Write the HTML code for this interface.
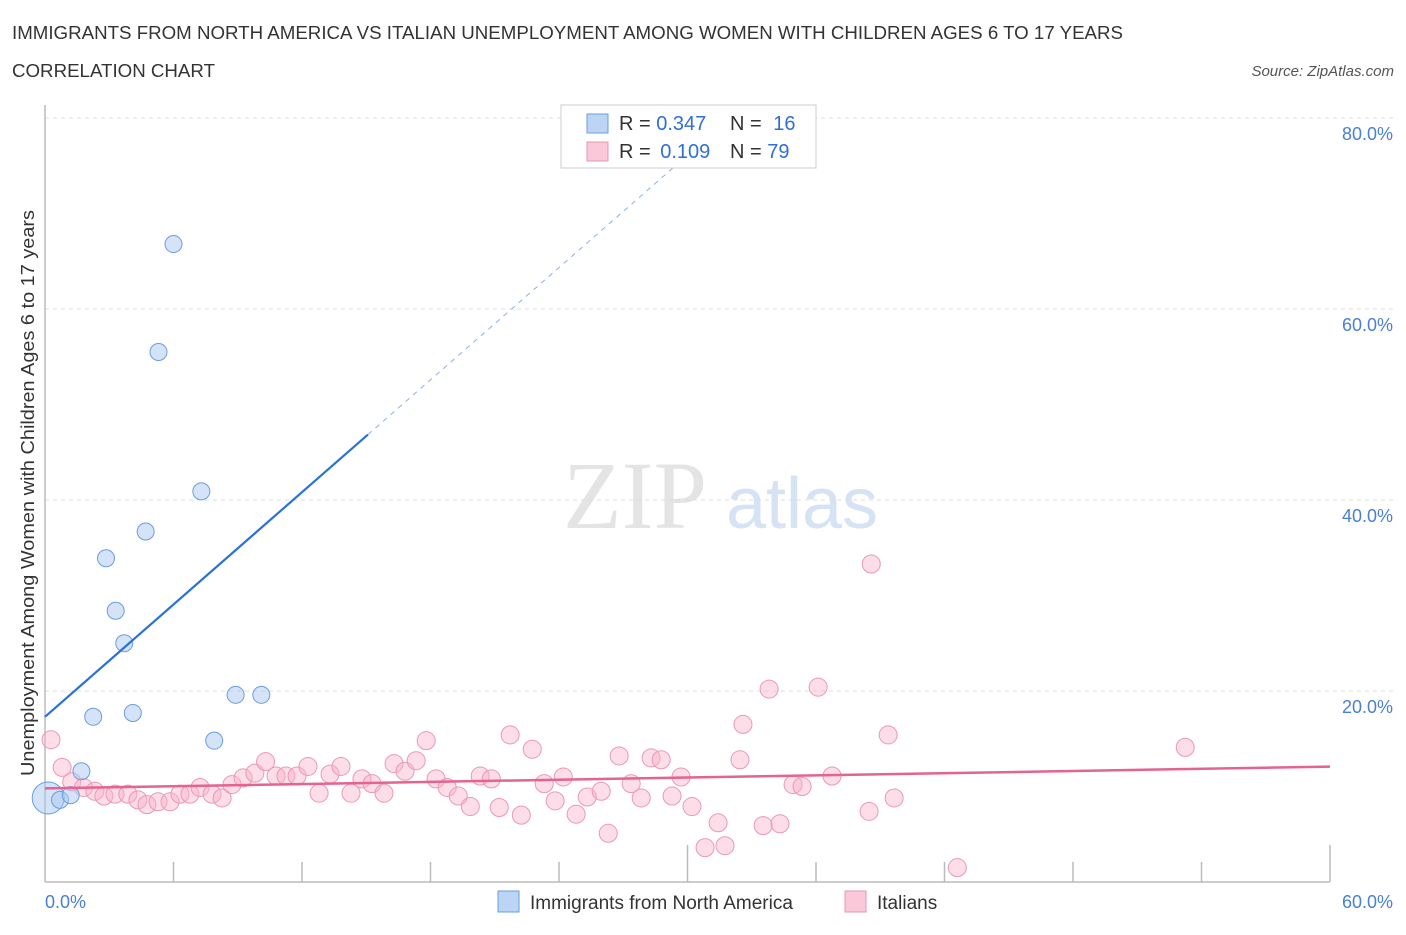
<!DOCTYPE html>
<html><head><meta charset="utf-8"><style>
body{margin:0;background:#fff;font-family:"Liberation Sans",sans-serif}
svg text{font-family:"Liberation Sans",sans-serif}
</style></head><body>
<svg width="1406" height="930" viewBox="0 0 1406 930">
<text x="12" y="39" font-size="18" fill="#333" textLength="1111" lengthAdjust="spacingAndGlyphs">IMMIGRANTS FROM NORTH AMERICA VS ITALIAN UNEMPLOYMENT AMONG WOMEN WITH CHILDREN AGES 6 TO 17 YEARS</text>
<text x="12" y="77" font-size="18" fill="#333" textLength="203" lengthAdjust="spacingAndGlyphs">CORRELATION CHART</text>
<text x="1394" y="76" font-size="15" fill="#555" font-style="italic" text-anchor="end">Source: ZipAtlas.com</text>
<g>
<text x="635" y="528" font-size="96" fill="#e4e4e4" text-anchor="middle" font-family="Liberation Serif" style="font-family:'Liberation Serif',serif">ZIP</text>
<text x="802" y="528" font-size="72" fill="#d5e3f5" text-anchor="middle">atlas</text>
</g>
<g id="grid"></g>
<g id="axes"></g>
<g id="marks"></g>
<text transform="translate(34,493) rotate(-90)" font-size="18" fill="#333" text-anchor="middle" textLength="566" lengthAdjust="spacingAndGlyphs">Unemployment Among Women with Children Ages 6 to 17 years</text>
<g>
<rect x="561" y="105" width="255" height="63" fill="#fff" stroke="#ccc"/>
<rect x="587" y="114" width="21" height="19" fill="#bcd4f5" stroke="#6a9de0"/>
<text x="619" y="130" font-size="20" fill="#333">R = <tspan fill="#2f6fd6">0.347</tspan></text>
<text x="730" y="130" font-size="20" fill="#333">N = <tspan fill="#2f6fd6" dx="6">16</tspan></text>
<rect x="587" y="142" width="21" height="19" fill="#fac8d8" stroke="#e896b2"/>
<text x="619" y="158" font-size="20" fill="#333">R = <tspan fill="#2f6fd6" dx="4">0.109</tspan></text>
<text x="730" y="158" font-size="20" fill="#333">N = <tspan fill="#2f6fd6">79</tspan></text>
</g>
<g>
<rect x="498" y="891" width="21" height="21" fill="#bcd4f5" stroke="#6a9de0"/>
<text x="530" y="909" font-size="19" fill="#333">Immigrants from North America</text>
<rect x="845" y="891" width="21" height="21" fill="#fac8d8" stroke="#e896b2"/>
<text x="877" y="909" font-size="19" fill="#333">Italians</text>
</g>
</svg>
<script>
const yTicks=[20,40,60,80];
const yTickLabels=["20.0%","40.0%","60.0%","80.0%"];
const xTickLabels=["0.0%","60.0%"];
const blueX=[0.15,0.7,1.2,1.7,2.25,2.85,3.3,3.7,4.1,4.7,5.3,6.0,7.3,7.9,8.9,10.1];
const blueY=[8.8,8.6,9.1,11.6,17.3,33.9,28.4,25.0,17.7,36.7,55.5,66.8,40.9,14.8,19.6,19.6];
const blueR=[16,8.5,8.5,8.5,8.5,8.5,8.5,8.5,8.5,8.5,8.5,8.5,8.5,8.5,8.5,8.5];
const pinkX=[0.28,0.8,1.25,1.8,2.33,2.75,3.27,3.87,4.34,4.76,5.28,5.84,6.3,6.77,7.24,7.8,8.27,8.73,9.25,9.8,10.3,10.79,11.25,11.77,12.28,12.8,13.31,13.82,14.29,14.8,15.27,15.83,16.3,16.81,17.33,17.8,18.26,18.78,19.3,19.86,20.32,20.84,21.21,21.72,22.24,22.75,23.31,23.82,24.2,24.8,25.32,25.97,26.3,26.81,27.37,27.84,28.3,28.77,29.28,29.7,30.21,30.82,31.43,31.75,32.45,32.59,33.53,33.81,34.32,34.93,35.35,36.1,36.75,38.48,38.58,39.37,39.65,42.6,53.24];
const pinkY=[14.9,12.0,10.5,9.9,9.5,9.0,9.2,9.2,8.6,8.1,8.4,8.4,9.2,9.2,9.9,9.2,8.8,10.2,10.9,11.4,12.6,11.1,11.1,11.1,12.1,9.3,11.3,12.1,9.3,10.8,10.3,9.3,12.4,11.6,12.7,14.8,10.8,9.9,9.0,7.9,11.1,10.8,7.8,15.4,7.0,13.9,10.3,8.5,11.0,7.1,8.9,9.5,5.1,13.2,10.3,8.8,13.0,12.8,9.0,11.0,7.9,3.6,6.2,3.8,12.8,16.5,5.9,20.2,6.1,10.2,10.0,20.4,11.1,7.4,33.3,15.4,8.8,1.5,14.1];
const blueFit=[17.3,1.96];
const pinkFit=[9.8,0.038];
const NS="http://www.w3.org/2000/svg";
const X0=45,X1=1330,Y0=882,Y80=118;
function sx(v){return X0+v/60*(X1-X0);}
function sy(v){return Y0-v/80*(Y0-Y80);}
function mk(t,a,p){const e=document.createElementNS(NS,t);for(const k in a)e.setAttribute(k,a[k]);document.getElementById(p).appendChild(e);return e;}
yTicks.forEach((t,i)=>{
 const g=mk('line',{x1:X0,x2:1395,y1:sy(t),y2:sy(t),stroke:'#ddd','stroke-dasharray':'4,4'},'grid');
 
 
 const l=mk('text',{x:1393,y:sy(t)+22,'font-size':18,fill:'#4a7fd4','text-anchor':'end'},'grid');
 l.textContent=yTickLabels[i];
 
 
});
const ax=mk('line',{x1:X0,x2:X1,y1:Y0,y2:Y0,stroke:'#bbb','stroke-width':1.5},'axes');


const ay=mk('line',{x1:X0,x2:X0,y1:105,y2:Y0,stroke:'#bbb','stroke-width':1.5},'axes');


for(let i=1;i<=10;i++){
 const tall=(i==5||i==10);
 const t=mk('line',{x1:sx(i*6),x2:sx(i*6),y1:tall?845:862,y2:Y0,stroke:'#bbb','stroke-width':1.5},'axes');
 
 
}
[[0,'start',45],[60,'end',1393]].forEach((d,i)=>{
 const l=mk('text',{x:d[2],y:908,'font-size':18,fill:'#4a7fd4','text-anchor':d[1]},'axes');
 l.textContent=xTickLabels[i];
 
 
});
pinkX.forEach((x,i)=>{
 const c=mk('circle',{cx:sx(x),cy:sy(pinkY[i]),r:9,fill:'rgba(248,180,204,0.45)',stroke:'#eb98b6','stroke-width':1},'marks');
 
 
});
blueX.forEach((x,i)=>{
 const c=mk('circle',{cx:sx(x),cy:sy(blueY[i]),r:blueR[i],fill:'rgba(170,200,240,0.5)',stroke:'#6a9de0','stroke-width':1},'marks');
 
 
});
const bEnd=15.08, bTop=(80-blueFit[0])/blueFit[1];
const bl=mk('line',{x1:sx(0),y1:sy(blueFit[0]),x2:sx(bEnd),y2:sy(blueFit[0]+blueFit[1]*bEnd),stroke:'#2a72d8','stroke-width':2.2},'marks');


const bd=mk('line',{x1:sx(bEnd),y1:sy(blueFit[0]+blueFit[1]*bEnd),x2:sx(bTop),y2:sy(80),stroke:'#8ab0e6','stroke-width':1,'stroke-dasharray':'5,5'},'marks');


const pl=mk('line',{x1:sx(0),y1:sy(pinkFit[0]),x2:sx(60),y2:sy(pinkFit[0]+pinkFit[1]*60),stroke:'#e4638f','stroke-width':2.5},'marks');


</script>
</body></html>
